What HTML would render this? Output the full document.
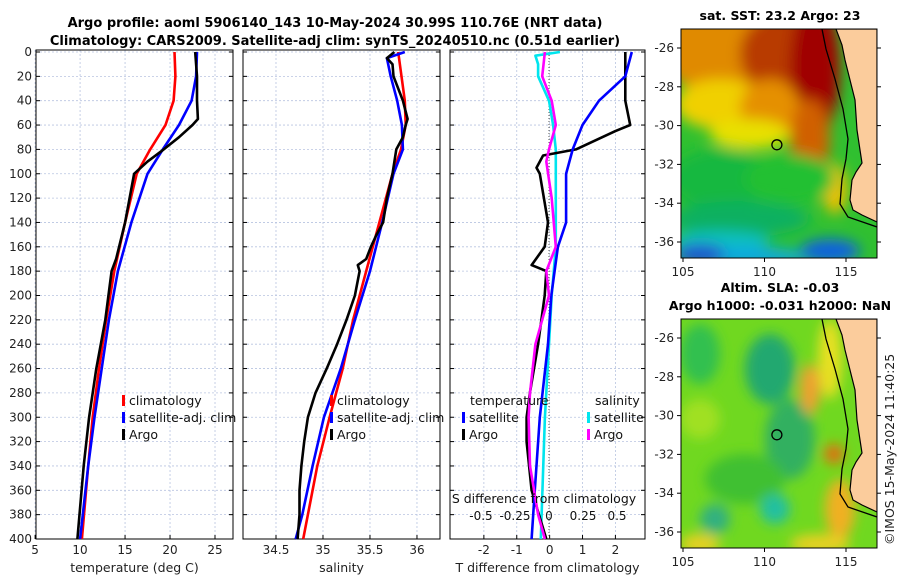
<!DOCTYPE html>
<html><head><meta charset="utf-8">
<style>
body{margin:0;background:#fff;}
svg{display:block;font-family:"DejaVu Sans","Liberation Sans",sans-serif;}
</style></head>
<body>
<svg id="fig" width="900" height="580" viewBox="0 0 900 580" xmlns="http://www.w3.org/2000/svg">
<defs>
<filter id="blur1" x="-20%" y="-20%" width="140%" height="140%"><feGaussianBlur stdDeviation="7"/></filter>
<filter id="blur2" x="-20%" y="-20%" width="140%" height="140%"><feGaussianBlur stdDeviation="6"/></filter>
<clipPath id="clipM1"><rect x="681" y="29" width="196" height="229"/></clipPath>
<clipPath id="clipM2"><rect x="681" y="319" width="196" height="229"/></clipPath>
</defs>
<text x="335" y="27" text-anchor="middle" font-size="13" font-weight="bold">Argo profile: aoml 5906140_143 10-May-2024 30.99S 110.76E (NRT data)</text>
<text x="335" y="45" text-anchor="middle" font-size="13" font-weight="bold">Climatology: CARS2009. Satellite-adj clim: synTS_20240510.nc (0.51d earlier)</text>
<g id="plots"></g>
<g id="maps"></g>
<text transform="translate(894,545) rotate(-90)" font-size="12.5" fill="#222">©IMOS 15-May-2024 11:40:25</text>
</svg>
<script>
// ---- data (depth in dbar) ----
const climTDepth=[0,20,40,60,80,100,140,180,220,260,300,340,400];
const climT=[20.5,20.6,20.4,19.5,17.8,16.3,15.0,13.8,12.9,12.1,11.4,10.9,10.2];
const satTDepth=[0,20,40,60,80,100,140,180,220,260,300,340,400];
const satT=[23.0,22.9,22.4,21.0,19.2,17.5,15.7,14.2,13.2,12.4,11.6,10.9,10.0];
const argoTDepth=[0,20,40,55,60,70,80,90,100,140,170,180,220,260,300,340,400];
const argoT=[22.8,23.0,23.0,23.1,22.5,21.0,19.3,17.5,16.0,15.0,14.0,13.5,12.8,11.8,11.0,10.4,9.7];
const climSDepth=[0,40,60,80,100,140,180,220,260,300,340,380,400];
const climS=[35.8,35.87,35.88,35.83,35.74,35.6,35.46,35.32,35.21,35.07,34.94,34.84,34.79];
const satSDepth=[0,5,20,40,60,80,100,140,180,220,260,300,340,380,400];
const satS=[35.87,35.68,35.72,35.79,35.84,35.85,35.75,35.63,35.5,35.34,35.19,35.01,34.89,34.78,34.71];
const argoSDepth=[0,5,10,20,40,55,60,70,80,90,100,120,140,150,160,170,175,180,200,220,240,260,280,300,320,340,360,380,400];
const argoS=[35.76,35.68,35.74,35.75,35.85,35.9,35.88,35.85,35.78,35.76,35.74,35.68,35.64,35.57,35.51,35.46,35.37,35.39,35.34,35.25,35.15,35.04,34.92,34.84,34.8,34.77,34.75,34.75,34.73];
const dTArgoDepth=[0,40,60,65,75,80,85,95,100,140,160,175,180,200,240,280,300,320,360,400];
const dTArgo=[2.3,2.3,2.45,2.0,1.2,0.8,-0.2,-0.4,-0.3,-0.05,-0.15,-0.55,-0.1,-0.15,-0.35,-0.6,-0.7,-0.7,-0.55,-0.1];
const dTSatDepth=[0,20,40,60,80,100,140,160,200,240,300,360,400];
const dTSat=[2.5,2.3,1.5,1.0,0.7,0.5,0.5,0.25,0.05,-0.05,-0.3,-0.45,-0.55];
const dSSatDepth=[0,3,10,20,40,60,80,120,160,200,240,300,400];
const dSSat=[0.08,-0.1,-0.08,-0.08,0,0.03,0.05,0.05,0.05,0.02,0,-0.03,-0.06];
const dSArgoDepth=[0,20,40,60,80,90,120,160,180,200,240,280,300,340,380,400];
const dSArgo=[-0.03,-0.05,0.02,0.05,0.0,-0.02,0.02,0.05,-0.02,0.0,-0.1,-0.14,-0.15,-0.14,-0.08,-0.03];
const depthTicks=[0,20,40,60,80,100,120,140,160,180,200,220,240,260,280,300,320,340,360,380,400];
const tempTicks=[5,10,15,20,25];
const salTicks=[34.5,35,35.5,36];
const dTTicks=[-2,-1,0,1,2];
const dSTicks=[-0.5,-0.25,0,0.25,0.5];

const NS='http://www.w3.org/2000/svg';
const top0=52, bot=539;
const yD=d=>top0+(bot-top0)*d/400;
function el(tag,attrs,parent){const e=document.createElementNS(NS,tag);for(const k in attrs)e.setAttribute(k,attrs[k]);parent.appendChild(e);return e;}
const G=document.getElementById('plots');

function panel(name,x0,x1,vmin,vmax,ticks,xlabel,showY){
  const xs=v=>x0+(x1-x0)*(v-vmin)/(vmax-vmin);
  const g=el('g',{},G);
  
  
  depthTicks.forEach(d=>{const l=el('line',{x1:x0,x2:x1,y1:yD(d),y2:yD(d),stroke:'#b8c4e0','stroke-width':0.8,'stroke-dasharray':'2,2'},g);
    
    el('line',{x1:x0,x2:x0+4,y1:yD(d),y2:yD(d),stroke:'#000'},g);el('line',{x1:x1-4,x2:x1,y1:yD(d),y2:yD(d),stroke:'#000'},g);
    if(showY){const t=el('text',{x:x0-4,y:yD(d)+4,'text-anchor':'end','font-size':12,fill:'#222'},g);t.textContent=d;
      }
  });
  ticks.forEach(v=>{const l=el('line',{x1:xs(v),x2:xs(v),y1:top0-2,y2:bot,stroke:'#b8c4e0','stroke-width':0.8,'stroke-dasharray':'2,2'},g);
    
    el('line',{x1:xs(v),x2:xs(v),y1:bot,y2:bot-4,stroke:'#000'},g);
    const t=el('text',{x:xs(v),y:bot+15,'text-anchor':'middle','font-size':12,fill:'#222'},g);t.textContent=v;
    });
  const r=el('rect',{x:x0,y:top0-2,width:x1-x0,height:bot-top0+2,fill:'none',stroke:'#000','stroke-width':1},g);
  
  const t=el('text',{x:(x0+x1)/2,y:bot+33,'text-anchor':'middle','font-size':12.5,fill:'#222'},g);t.textContent=xlabel;
  
  return {g,xs};
}
function line(p,depth,vals,color,name,xsf){
  const xs=xsf||p.xs;
  const pts=depth.map((d,i)=>xs(vals[i]).toFixed(1)+','+yD(d).toFixed(1)).join(' ');
  const pl=el('polyline',{points:pts,fill:'none',stroke:color,'stroke-width':2.6,'stroke-linejoin':'round'},p.g);
  
  
}
function legend(g,x,y,items){
  items.forEach((it,i)=>{
    el('rect',{x:x,y:y+i*17-10,width:3,height:11,fill:it[1]},g);
    const t=el('text',{x:x+7,y:y+i*17,'font-size':12.5,fill:'#111'},g);t.textContent=it[0];
    
  });
}
const p1=panel('temperature-panel',36,233,5.1,27.0,tempTicks,'temperature (deg C)',true);
line(p1,climTDepth,climT,'#ff0000','climatology-temp-line');
line(p1,satTDepth,satT,'#0000ff','satellite-temp-line');
line(p1,argoTDepth,argoT,'#000','argo-temp-line');
legend(p1.g,122,405,[['climatology','#f00'],['satellite-adj. clim','#00f'],['Argo','#000']]);

const p2=panel('salinity-panel',243,440,34.149,36.245,salTicks,'salinity',false);
line(p2,climSDepth,climS,'#ff0000','climatology-salinity-line');
line(p2,satSDepth,satS,'#0000ff','satellite-salinity-line');
line(p2,argoSDepth,argoS,'#000','argo-salinity-line');
legend(p2.g,330,405,[['climatology','#f00'],['satellite-adj. clim','#00f'],['Argo','#000']]);

const p3=panel('difference-panel',450,645,-3.03,2.9,dTTicks,'T difference from climatology',false);
const xsS=v=>549+136*v;
el('line',{x1:549,x2:549,y1:top0,y2:bot,stroke:'#555','stroke-dasharray':'1,2'},p3.g);
line(p3,dSSatDepth,dSSat,'#00e5ee','satellite-salinity-diff-line',xsS);
line(p3,dTArgoDepth,dTArgo,'#000','argo-temp-diff-line');
line(p3,dTSatDepth,dTSat,'#0000ff','satellite-temp-diff-line');
line(p3,dSArgoDepth,dSArgo,'#ff00ff','argo-salinity-diff-line',xsS);
let tt=el('text',{x:470,y:405,'font-size':12.5,fill:'#111'},p3.g);tt.textContent='temperature';
tt=el('text',{x:595,y:405,'font-size':12.5,fill:'#111'},p3.g);tt.textContent='salinity';
legend(p3.g,462,422,[['satellite','#00f'],['Argo','#000']]);
legend(p3.g,587,422,[['satellite','#00e5ee'],['Argo','#f0f']]);
tt=el('text',{x:544,y:503,'text-anchor':'middle','font-size':12.5,fill:'#111'},p3.g);tt.textContent='S difference from climatology';

dSTicks.forEach(v=>{const t=el('text',{x:xsS(v),y:520,'text-anchor':'middle','font-size':12,fill:'#111'},p3.g);t.textContent=v;
  });

// ---- maps ----
const M=document.getElementById('maps');
const lonTicks=[105,110,115], latTicks=[-26,-28,-30,-32,-34,-36];
function map(name,oy,title,blobs,base){
  const g=el('g',{},M);
  
  
  const yL=lat=>oy+19+(-26-lat)*19.4, xL=lon=>683+(lon-105)*16.3;
  const c=el('g',{'clip-path':'url(#clip'+(oy<100?'M1':'M2')+')'},g);
  el('rect',{x:681,y:oy,width:196,height:229,fill:base},c);
  const bg=el('g',{filter:'url(#blur'+(oy<100?'1':'2')+')'},c);
  blobs.forEach(b=>el('ellipse',{cx:b[0],cy:oy+b[1],rx:b[2],ry:b[3],fill:b[4]},bg));
  const land=[[836,0],[842,16],[845,31],[850,51],[855,71],[857,101],[860,121],[862,134],[856,143],[852,151],[850,171],[853,181],[862,186],[877,193],[877,0]];
  const lp=el('polygon',{points:land.map(p=>p[0]+','+(oy+p[1])).join(' '),fill:'#fbcc9c',stroke:'#000','stroke-width':1.2},c);
  
  const shelf=[[822,0],[826,20],[835,50],[843,80],[848,110],[846,130],[842,150],[840,175],[848,188],[877,198]];
  el('polyline',{points:shelf.map(p=>p[0]+','+(oy+p[1])).join(' '),fill:'none',stroke:'#000','stroke-width':1.3},c);
  const ci=el('circle',{cx:xL(110.76),cy:yL(-30.99),r:5,fill:'none',stroke:'#000','stroke-width':1.3},g);
  
  el('rect',{x:681,y:oy,width:196,height:229,fill:'none',stroke:'#000'},g);
  latTicks.forEach(l=>{el('line',{x1:877,x2:881,y1:yL(l),y2:yL(l),stroke:'#000'},g);el('line',{x1:677,x2:681,y1:yL(l),y2:yL(l),stroke:'#000'},g);
    const t=el('text',{x:674,y:yL(l)+4,'text-anchor':'end','font-size':12,fill:'#222'},g);t.textContent=l;
    });
  lonTicks.forEach(l=>{el('line',{x1:xL(l),x2:xL(l),y1:oy+229,y2:oy+233,stroke:'#000'},g);
    const t=el('text',{x:xL(l),y:oy+247,'text-anchor':'middle','font-size':12,fill:'#222'},g);t.textContent=l;
    });
  title.forEach((s,i)=>{const t=el('text',{x:780,y:oy-(title.length-i-1)*18-9,'text-anchor':'middle','font-size':12.5,'font-weight':'bold'},g);t.textContent=s;
    });
}
map('sst-map',29,['sat. SST: 23.2 Argo: 23'],[
 [720,20,60,45,'#e08a00'],[780,25,40,40,'#b83a00'],[815,40,25,70,'#a00000'],[720,75,45,25,'#f0d000'],[770,80,30,30,'#e59000'],
 [810,110,20,40,'#d06000'],[835,160,12,25,'#f4c000'],[750,105,40,15,'#e8e000'],
 [720,150,50,30,'#18b840'],[790,150,45,25,'#20c030'],[740,190,70,18,'#10b060'],[720,212,50,10,'#10c0c0'],[740,228,70,10,'#10a8e0'],[830,222,30,12,'#1060e0'],[700,225,25,10,'#2050d0']
],'#30c030');
map('sla-map',319,['Altim. SLA: -0.03','Argo h1000: -0.031 h2000: NaN'],[
 [700,35,20,30,'#30c050'],[770,50,25,35,'#20a870'],[790,120,25,40,'#30b060'],[745,160,40,25,'#40c030'],
 [810,70,10,25,'#f0a030'],[834,135,10,10,'#e07010'],[840,190,15,30,'#f0b020'],[775,190,15,15,'#20c0a0'],[715,200,15,15,'#30b080'],
 [700,100,20,20,'#a0e020'],[830,40,12,40,'#e8e020'],[820,225,30,10,'#e8d020'],[700,225,20,10,'#e8d020']
],'#70d820');
</script>
</body></html>
